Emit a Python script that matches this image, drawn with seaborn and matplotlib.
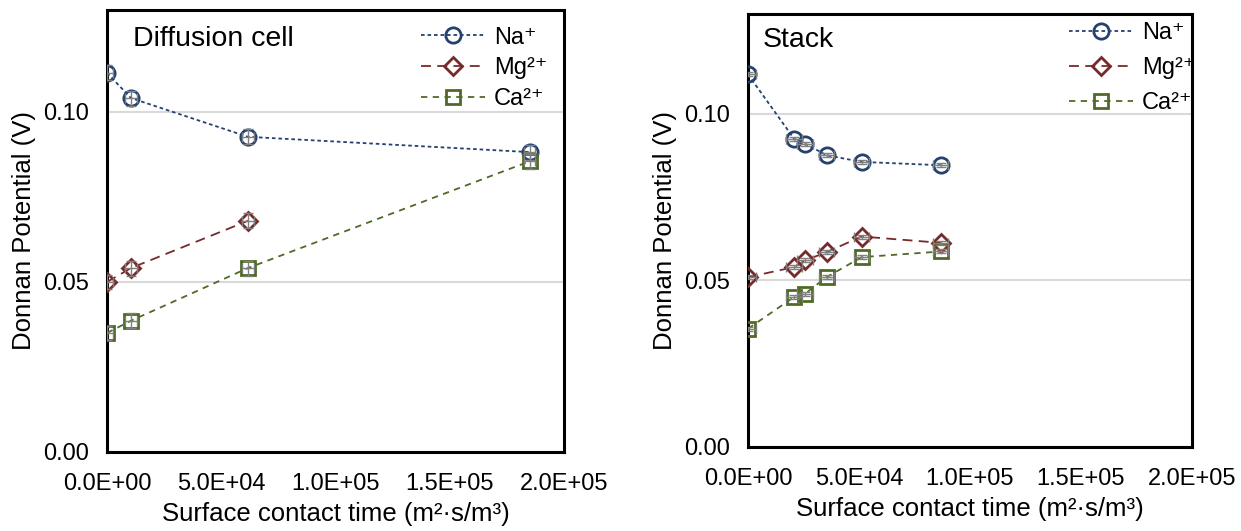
import numpy as np
import pandas as pd
import matplotlib
matplotlib.use('Agg')
import matplotlib.pyplot as plt
from matplotlib.ticker import FuncFormatter
import seaborn as sns

# Diffusion cell data (surface contact time in m2 s/m3, Donnan potential in V)
cell_na_x = [0, 10500, 61700, 185000]
cell_na_y = [0.1115, 0.1041, 0.0927, 0.0882]
cell_mg_x = [0, 10500, 61700]
cell_mg_y = [0.0500, 0.0541, 0.0680]
cell_ca_x = [0, 10500, 61700, 185000]
cell_ca_y = [0.0350, 0.0386, 0.0541, 0.0855]

# Stack data
stack_na_x = [0, 20700, 25700, 35400, 51200, 86800]
stack_na_y = [0.1119, 0.0926, 0.0911, 0.0876, 0.0856, 0.0846]
stack_mg_x = [0, 20700, 25700, 35400, 51200, 86800]
stack_mg_y = [0.0510, 0.0540, 0.0560, 0.0585, 0.0632, 0.0613]
stack_ca_x = [0, 20700, 25700, 35400, 51200, 86800]
stack_ca_y = [0.0355, 0.0450, 0.0460, 0.0510, 0.0570, 0.0587]

# small error bars
cell_yerr = 0.0022
cell_xerr = 2500
stack_yerr = 0.0006
stack_xerr = 3500

ions = ['Na⁺', 'Mg²⁺', 'Ca²⁺']
colors = {'Na⁺': '#24416F', 'Mg²⁺': '#782A2A', 'Ca²⁺': '#4E6A26'}
markers = {'Na⁺': 'o', 'Mg²⁺': 'D', 'Ca²⁺': 's'}
msizes = {'Na⁺': 11, 'Mg²⁺': 9.5, 'Ca²⁺': 10}
styles = {'Na⁺': (0, (2, 1.6)), 'Mg²⁺': (0, (5.5, 3.5)), 'Ca²⁺': (0, (3.5, 3))}

sns.set_theme(style='white')
plt.rcParams['font.family'] = ['Liberation Sans', 'DejaVu Sans']
plt.rcParams['text.color'] = 'black'
plt.rcParams['axes.labelcolor'] = 'black'

fig = plt.figure(figsize=(12.41, 5.31), dpi=100)
ax1 = fig.add_axes([0.0862, 0.1488, 0.3683, 0.8324])
ax2 = fig.add_axes([0.6027, 0.1582, 0.3578, 0.8154])

panels = [
    (ax1, 'Diffusion cell',
     {'Na⁺': (cell_na_x, cell_na_y), 'Mg²⁺': (cell_mg_x, cell_mg_y), 'Ca²⁺': (cell_ca_x, cell_ca_y)},
     cell_xerr, cell_yerr, (0.057, 0.934), (1.0, 1.0), 0.38),
    (ax2, 'Stack',
     {'Na⁺': (stack_na_x, stack_na_y), 'Mg²⁺': (stack_mg_x, stack_mg_y), 'Ca²⁺': (stack_ca_x, stack_ca_y)},
     stack_xerr, stack_yerr, (0.034, 0.94), (1.045, 1.02), 0.55),
]

for ax, title, series, xerr, yerr, tpos, lpos, lspace in panels:
    for ion in ions:
        x, y = series[ion]
        df = pd.DataFrame({'x': x, 'y': y})
        ax.errorbar(df['x'], df['y'], xerr=xerr, yerr=yerr, fmt='none',
                    ecolor='#808080', elinewidth=1.0, capsize=3.5, capthick=1.0, zorder=4)
        sns.lineplot(data=df, x='x', y='y', ax=ax, color=colors[ion], label=ion,
                     marker=markers[ion], markersize=msizes[ion], mfc='none',
                     mec=colors[ion], mew=2.0, linestyle=styles[ion], lw=1.3,
                     zorder=3)

    ax.set_xlim(0, 2.0e5)
    ax.set_ylim(0, 0.13)
    ax.set_xticks([0, 5e4, 1e5, 1.5e5, 2e5])
    ax.set_yticks([0, 0.05, 0.10])
    ax.xaxis.set_major_formatter(FuncFormatter(lambda v, p: f'{v:.1E}'))
    ax.yaxis.set_major_formatter(FuncFormatter(lambda v, p: f'{v:.2f}'))
    ax.yaxis.grid(True, color='#D9D9D9', lw=1.5)
    ax.xaxis.grid(False)
    ax.set_axisbelow(True)
    for s in ax.spines.values():
        s.set_color('black')
        s.set_linewidth(2.2)
    ax.tick_params(axis='x', direction='inout', length=14, width=1, color='#A6A6A6',
                   labelsize=17, pad=8, labelcolor='black')
    ax.tick_params(axis='y', direction='in', length=6, width=1.5, color='black',
                   labelsize=17, pad=13, labelcolor='black')
    ax.set_xlabel('Surface contact time (m²·s/m³)', fontsize=18.5, labelpad=5)
    ax.set_ylabel('Donnan Potential (V)', fontsize=18.5, labelpad=5)
    ax.text(tpos[0], tpos[1], title, transform=ax.transAxes, fontsize=20.5,
            ha='left', va='center')
    ax.legend(loc='upper right', bbox_to_anchor=lpos, frameon=False,
              fontsize=17, handlelength=2.7, handletextpad=0.4, labelspacing=lspace,
              borderaxespad=0.3)

fig.savefig('out.png', dpi=100)
